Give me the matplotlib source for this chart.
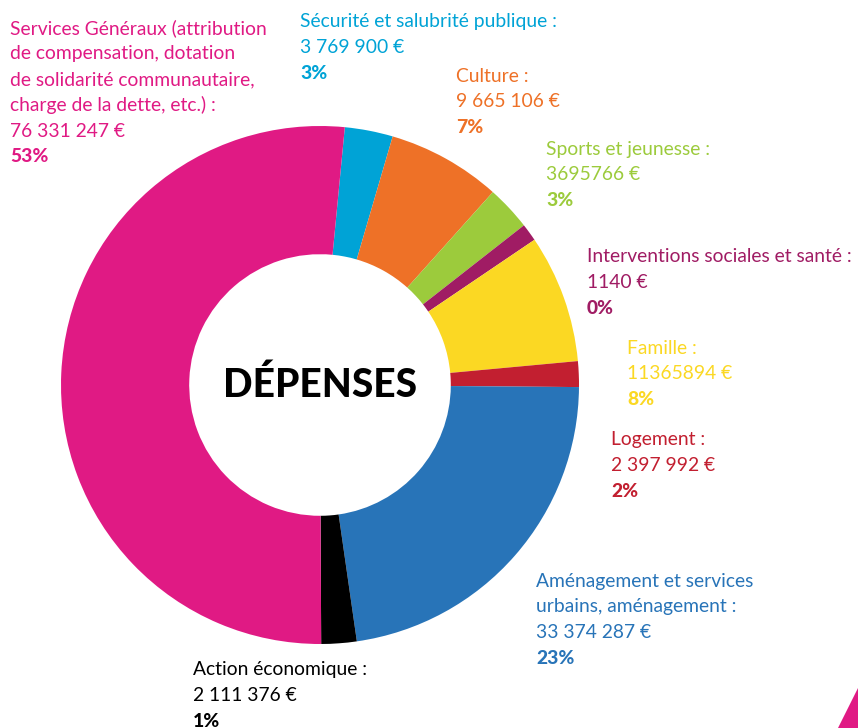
"""
Donut chart: budget "DÉPENSES" broken down by domain.
Output: out.png (858x728)
"""

import matplotlib.pyplot as plt
from matplotlib.patches import Polygon

# ── Data ──────────────────────────────────────────────────────────────────────
domains = [
    "Sécurité et salubrité publique",
    "Culture",
    "Sports et jeunesse",
    "Interventions sociales et santé",
    "Famille",
    "Logement",
    "Aménagement et services urbains, aménagement",
    "Action économique",
    "Services Généraux",
]
amounts = ["3 769 900 €", "9 665 106 €", "3695766 €", "1140 €", "11365894 €",
           "2 397 992 €", "33 374 287 €", "2 111 376 €", "76 331 247 €"]
percents = ["3%", "7%", "3%", "0%", "8%", "2%", "23%", "1%", "53%"]
# slice shares as drawn in the picture (%)
shares = [3.0, 7.1, 2.8, 1.1, 8.0, 1.6, 22.6, 2.2, 51.6]

colours = ["#00a3d6", "#ee7127", "#9ccb3c", "#a01c64", "#fbd823",
           "#c21f30", "#2874b8", "#000000", "#e01a84"]

# label blocks: lines of the title, then amount & percent
label_lines = [
    ["Sécurité et salubrité publique :"],
    ["Culture :"],
    ["Sports et jeunesse :"],
    ["Interventions sociales et santé :"],
    ["Famille :"],
    ["Logement :"],
    ["Aménagement et services", "urbains, aménagement :"],
    ["Action économique :"],
    ["Services Généraux (attribution", "de compensation, dotation",
     "de solidarité communautaire,", "charge de la dette, etc.) :"],
]
# top-left anchor of each block (pixels, from top)
label_pos = [(300, 22), (456, 76), (546, 149), (587, 257), (627, 348),
             (611, 440), (536, 581), (193, 670), (10, 28)]

W, H = 858, 728
FONT = "Lato"

fig = plt.figure(figsize=(W / 100, H / 100), dpi=100)
fig.patch.set_facecolor("white")
ax = fig.add_axes([0, 0, 1, 1])

# ── Donut ─────────────────────────────────────────────────────────────────────
cx, cy, r = 320, H - 385, 259
ax.pie(shares, colors=colours, startangle=84.5, counterclock=False,
       center=(cx, cy), radius=r, frame=True,
       wedgeprops=dict(width=r * 0.495, linewidth=0))
ax.set_xlim(0, W)
ax.set_ylim(0, H)
ax.set_aspect("equal")
ax.axis("off")

ax.text(cx, cy, "DÉPENSES", ha="center", va="center", fontsize=28,
        fontweight="black", family=FONT, color="black")

# ── Labels ────────────────────────────────────────────────────────────────────
step = 25.8
for lines, amt, pct, (x, y), c in zip(label_lines, amounts, percents, label_pos, colours):
    rows = lines + [amt]
    for i, t in enumerate(rows):
        ax.text(x, H - (y + i * step), t, ha="left", va="center",
                fontsize=13.9, family=FONT, color=c)
    ax.text(x, H - (y + len(rows) * step), pct, ha="left", va="center",
            fontsize=13.9, fontweight="black", family=FONT, color=c)

# pink corner decoration
ax.add_patch(Polygon([(838, 0), (858, 0), (858, 40)], closed=True,
                     facecolor="#e01a84", edgecolor="none"))

fig.savefig("out.png", dpi=100, facecolor="white")
